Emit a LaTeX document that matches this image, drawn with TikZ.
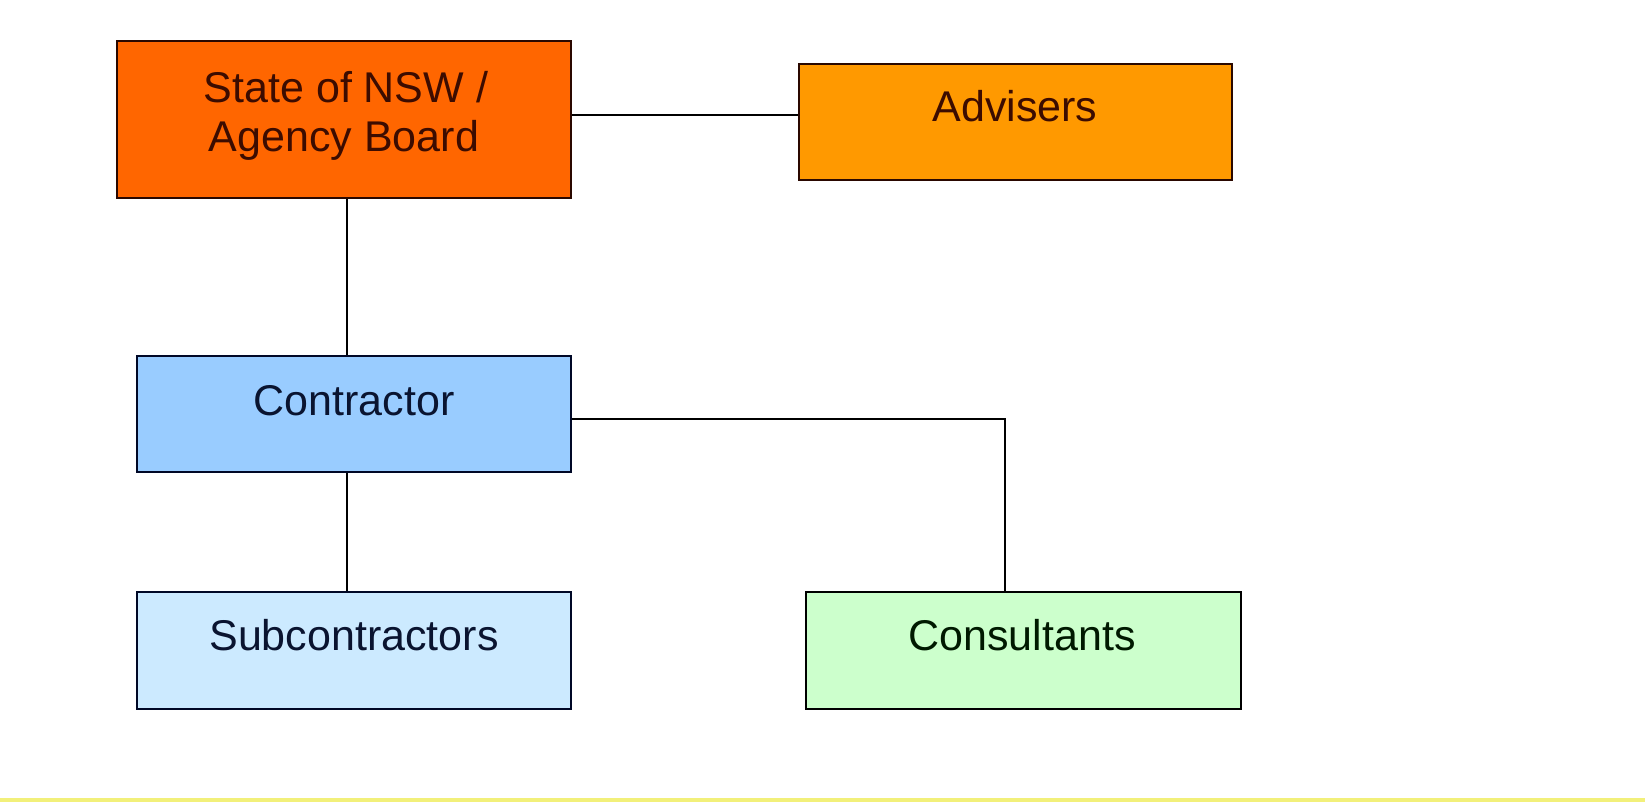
\documentclass[tikz,border=0pt]{standalone}
\usepackage{fontspec}
\setmainfont{Liberation Sans}
\definecolor{boardfill}{HTML}{FF6600}
\definecolor{advfill}{HTML}{FF9900}
\definecolor{confill}{HTML}{99CCFF}
\definecolor{subfill}{HTML}{CCEAFF}
\definecolor{consfill}{HTML}{CCFFCC}
\definecolor{brownline}{HTML}{2A0800}
\definecolor{browntext}{HTML}{3C0C00}
\definecolor{navyline}{HTML}{000826}
\definecolor{navytext}{HTML}{0A1430}
\definecolor{yellowbar}{HTML}{F2F07A}
\tikzset{
  boxshape/.style={draw, line width=2.6pt, inner sep=0pt, rectangle},
  boxtext/.style={inner sep=0pt, anchor=base, font=\fontsize{43}{49}\selectfont, align=center},
  link/.style={draw=black, line width=1.8pt}
}
\begin{document}
\begin{tikzpicture}[x=1pt,y=-1pt]
\useasboundingbox (0,0) rectangle (1645,802);
\fill[white] (0,0) rectangle (1645,802);
\fill[yellowbar] (0,798) rectangle (1645,802);

% boxes
\node[boxshape, fill=boardfill, draw=brownline, minimum width=454pt, minimum height=157pt] (board) at (344,119.5) {};
\node[boxshape, fill=advfill, draw=brownline, minimum width=433pt, minimum height=116pt] (adv) at (1015.5,122) {};
\node[boxshape, fill=confill, draw=navyline, minimum width=434pt, minimum height=116pt] (contr) at (354,414) {};
\node[boxshape, fill=subfill, draw=navyline, minimum width=434pt, minimum height=117pt] (sub) at (354,650.5) {};
\node[boxshape, fill=consfill, draw=black, minimum width=435pt, minimum height=117pt] (cons) at (1023.5,650.5) {};

% texts
\node[boxtext, text=browntext] (boardtxtA) at (346,102.5) {State of NSW /};
\node[boxtext, text=browntext] (boardtxtB) at (344,151.5) {Agency Board};
\node[boxtext, text=browntext] (advtxt) at (1015,121.5) {Advisers};
\node[boxtext, text=navytext] (contrtxt) at (354,415.5) {Contractor};
\node[boxtext, text=navytext] (subtxt) at (354,650.5) {Subcontractors};
\node[boxtext, text=black!90!green] (constxt) at (1022,650.5) {Consultants};

% connectors
\coordinate (bv) at (347,0);
\coordinate (cv) at (1005,0);
\draw[link] (board.east |- 0,115) -- (adv.west |- 0,115);
\draw[link] (board.south -| bv) -- (contr.north -| bv);
\draw[link] (contr.south -| bv) -- (sub.north -| bv);
\draw[link] (contr.east |- 0,419) -- (cv |- 0,419) -- (cons.north -| cv);
\end{tikzpicture}
\end{document}
